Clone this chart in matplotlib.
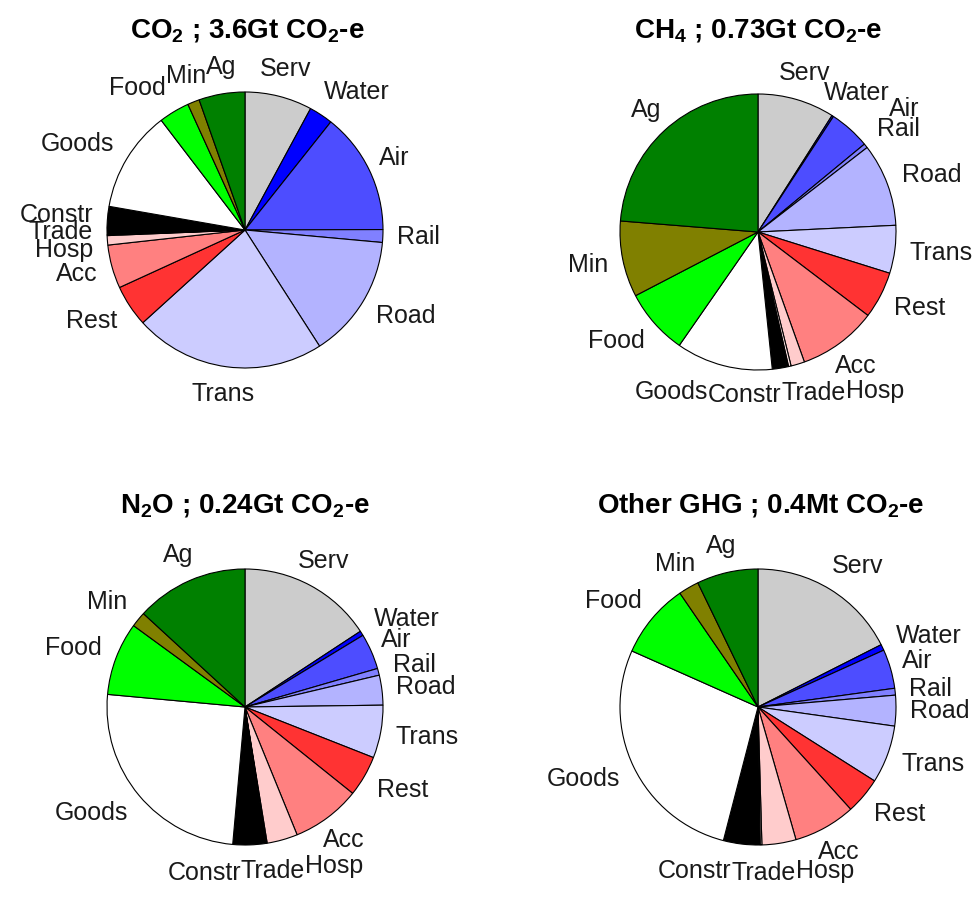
import numpy as np
import matplotlib
matplotlib.use("Agg")
import matplotlib.pyplot as plt

plt.rcParams['font.family'] = ['Liberation Sans', 'DejaVu Sans']
plt.rcParams['mathtext.fontset'] = 'custom'
plt.rcParams['mathtext.rm'] = 'Liberation Sans'
plt.rcParams['mathtext.bf'] = 'Liberation Sans:bold'

# Sector breakdown of emissions (% of each gas total), clockwise from 12 o'clock
sectors = ['Serv', 'Water', 'Air', 'Rail', 'Road', 'Trans', 'Rest', 'Acc',
           'Hosp', 'Trade', 'Constr', 'Goods', 'Food', 'Min', 'Ag']

co2_share = [7.9, 2.8, 14.3, 1.5, 14.5, 22.4, 4.9, 5.1, 1.1, 0.1, 3.3, 11.9, 3.6, 1.4, 5.4]
ch4_share = [9.0, 0.2, 4.8, 0.5, 9.7, 5.6, 5.5, 9.2, 1.6, 0.3, 1.9, 11.3, 7.7, 8.9, 23.7]
n2o_share = [15.8, 0.55, 4.2, 0.8, 3.5, 6.2, 4.8, 8.1, 3.6, 0.1, 3.9, 25.1, 8.6, 1.8, 13.2]
other_share = [17.6, 0.7, 4.6, 0.8, 3.6, 6.8, 4.3, 7.3, 4.0, 0.2, 4.3, 27.7, 8.8, 2.4, 7.2]

titles = [r'CO$_\mathbf{2}$ ; 3.6Gt CO$_\mathbf{2}$-e',
          r'CH$_\mathbf{4}$ ; 0.73Gt CO$_\mathbf{2}$-e',
          r'N$_\mathbf{2}$O ; 0.24Gt CO$_\mathbf{2}$-e',
          r'Other GHG ; 0.4Mt CO$_\mathbf{2}$-e']

sector_colors = [
    (0.8, 0.8, 0.8),   # Serv
    (0.0, 0.0, 1.0),   # Water
    (0.3, 0.3, 1.0),   # Air
    (0.5, 0.5, 1.0),   # Rail
    (0.7, 0.7, 1.0),   # Road
    (0.8, 0.8, 1.0),   # Trans
    (1.0, 0.2, 0.2),   # Rest
    (1.0, 0.5, 0.5),   # Acc
    (1.0, 0.8, 0.8),   # Hosp
    (1.0, 0.9, 0.9),   # Trade
    (0.0, 0.0, 0.0),   # Constr
    (1.0, 1.0, 1.0),   # Goods
    (0.0, 1.0, 0.0),   # Food
    (0.5, 0.5, 0.0),   # Min
    (0.0, 0.5, 0.0),   # Ag
]

W, H = 973, 900
DPI = 100
fig = plt.figure(figsize=(W / DPI, H / DPI), dpi=DPI)

R_PX = 138          # pie radius in pixels
LIM = 1.6           # axis half-range in pie radii
S = 2 * LIM * R_PX  # axes side in pixels

centers = [(245, 230), (758, 232), (245, 707), (758, 707)]
title_pos = [(247, 38), (758, 38), (245, 513), (761, 513)]
series = [co2_share, ch4_share, n2o_share, other_share]

renderer = fig.canvas.get_renderer()

LABEL_DIST = 1.2    # label anchor radius
TOUCH = 1.06        # labels whose box comes closer than this are pushed out
CLEAR = 1.1         # ... to this distance from the pie centre
BOX_H = 0.72        # fraction of the text box height used for collisions


def nearest_dist(x, y, hw, hh):
    nx = np.clip(0.0, x - hw, x + hw)
    ny = np.clip(0.0, y - hh, y + hh)
    return np.hypot(nx, ny), ny


def push_off_pie(p, hw, hh, limit):
    x, y = p
    d, ny = nearest_dist(x, y, hw, hh)
    if d >= limit:
        return p
    if abs(x) < hw:   # box straddles the vertical axis: move it up/down
        sy = 1.0 if y >= 0 else -1.0
        return np.array([x, sy * (CLEAR + hh)])
    sx = 1.0 if x >= 0 else -1.0
    edge = np.sqrt(max(CLEAR ** 2 - ny ** 2, 0.0))
    return np.array([sx * (edge + hw), y])


def draw_pie(ax, values):
    wedges, _ = ax.pie(values, colors=sector_colors, startangle=90,
                       counterclock=False, radius=1.0,
                       wedgeprops=dict(edgecolor='black', linewidth=0.8))
    ax.set_xlim(-LIM, LIM)
    ax.set_ylim(-LIM, LIM)
    ax.set_aspect('equal')
    ax.axis('off')
    inv = ax.transData.inverted()

    texts, anchors, pos, hws, hhs = [], [], [], [], []
    for w, lab in zip(wedges, sectors):
        mid = np.deg2rad(0.5 * (w.theta1 + w.theta2))
        x, y = LABEL_DIST * np.cos(mid), LABEL_DIST * np.sin(mid)
        t = ax.text(x, y, lab, ha='center', va='center', fontsize=18,
                    color='#1a1a1a')
        bb = t.get_window_extent(renderer).transformed(inv)
        texts.append(t)
        anchors.append((x, y))
        hws.append(bb.width / 2)
        hhs.append(bb.height / 2 * BOX_H)
        pos.append(push_off_pie(np.array([x, y]), bb.width / 2,
                                bb.height / 2 * BOX_H, TOUCH))
    anchors = np.array(anchors)
    pos = np.array(pos)
    hws = np.array(hws)
    hhs = np.array(hhs)
    n = len(texts)

    # separate overlapping labels: side by side below/above the pie,
    # stacked on its left and right, keeping their order round the pie
    for _ in range(500):
        moved = False
        for i in range(n):
            for j in range(i + 1, n):
                dx = pos[j, 0] - pos[i, 0]
                dy = pos[j, 1] - pos[i, 1]
                sw = hws[i] + hws[j]
                sh = hhs[i] + hhs[j]
                if abs(dx) >= sw - 1e-4 or abs(dy) >= sh - 1e-4:
                    continue
                moved = True
                mx = 0.5 * (anchors[i, 0] + anchors[j, 0])
                my = 0.5 * (anchors[i, 1] + anchors[j, 1])
                if abs(my) > abs(mx):
                    s = 1.0 if anchors[j, 0] >= anchors[i, 0] else -1.0
                    push = (sw - s * dx) / 2
                    pos[i, 0] -= s * push
                    pos[j, 0] += s * push
                else:
                    s = 1.0 if anchors[j, 1] >= anchors[i, 1] else -1.0
                    push = (sh - s * dy) / 2
                    pos[i, 1] -= s * push
                    pos[j, 1] += s * push
        for i in range(n):
            pos[i] = push_off_pie(pos[i], hws[i], hhs[i], 1.03)
        if not moved:
            break

    for t, p in zip(texts, pos):
        t.set_position((p[0], p[1]))


for (cx, cy), vals in zip(centers, series):
    ax = fig.add_axes([(cx - S / 2) / W, (H - cy - S / 2) / H, S / W, S / H])
    draw_pie(ax, vals)

for (tx, ty), ttl in zip(title_pos, titles):
    fig.text(tx / W, 1 - ty / H, ttl, ha='center', va='baseline',
             fontsize=20, fontweight='bold')

fig.savefig('out.png', dpi=DPI)
